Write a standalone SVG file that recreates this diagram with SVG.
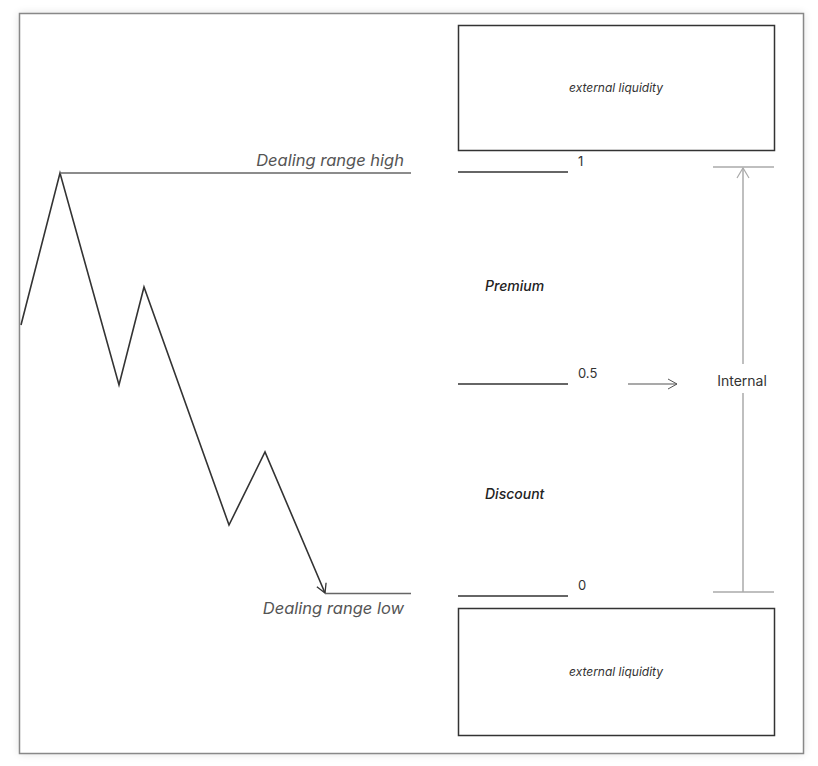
<svg xmlns="http://www.w3.org/2000/svg" width="818" height="766" viewBox="0 0 818 766">
<defs>
<filter id="sh" x="-5%" y="-5%" width="110%" height="110%"><feGaussianBlur stdDeviation="4"/></filter>
<marker id="ah2" viewBox="0 0 12 12" refX="10" refY="6" markerWidth="12" markerHeight="12" markerUnits="userSpaceOnUse" orient="auto"><path d="M1,1 L10,6 L1,11" fill="none" stroke="#333" stroke-width="1.3"/></marker>
<marker id="ahg" viewBox="0 0 12 12" refX="10" refY="6" markerWidth="12" markerHeight="12" markerUnits="userSpaceOnUse" orient="auto"><path d="M1,1 L10,6 L1,11" fill="none" stroke="#555" stroke-width="1"/></marker>
<marker id="ahl" viewBox="0 0 14 14" refX="12" refY="7" markerWidth="14" markerHeight="14" markerUnits="userSpaceOnUse" orient="auto"><path d="M2,1 L12,7 L2,13" fill="none" stroke="#aaa" stroke-width="1.2"/></marker>
</defs>
<style>
.box{fill:#fff;stroke:#333;stroke-width:1.5}
.ln{stroke:#333;stroke-width:1.6;fill:none}
.gl{stroke:#666;stroke-width:1.6;fill:none}
.lt{stroke:#aaa;stroke-width:1.5;fill:none}
.t{font-family:Inter,"Liberation Sans",sans-serif;fill:#333}
.dr{font-family:Inter,"Liberation Sans",sans-serif;font-style:italic;font-size:16.5px;fill:#555}
.el{font-family:Inter,"Liberation Sans",sans-serif;font-style:italic;font-size:12px;fill:#333}
.pd{font-family:Inter,"Liberation Sans",sans-serif;font-style:italic;font-weight:500;font-size:14px;fill:#222}
</style>
<rect x="19" y="13" width="785" height="741" fill="#000" opacity="0.12" filter="url(#sh)"/>
<rect x="19.5" y="13.5" width="784" height="740" fill="#fff" stroke="#888" stroke-width="1.5"/>
<g id="ext-top"><rect class="box" x="458.5" y="25.5" width="316" height="125"/><text class="el" x="616" y="92" text-anchor="middle">external liquidity</text></g>
<g id="ext-bottom"><rect class="box" x="458.5" y="608.5" width="316" height="127"/><text class="el" x="616" y="676" text-anchor="middle">external liquidity</text></g>
<g id="labels">
<text class="dr" x="404" y="166" text-anchor="end">Dealing range high</text>
<text class="dr" x="404" y="614" text-anchor="end">Dealing range low</text>
<text class="t" x="578" y="166" font-size="13">1</text>
<text class="t" x="578" y="378" font-size="13">0.5</text>
<text class="t" x="578" y="590" font-size="13">0</text>
<text class="pd" x="485" y="291">Premium</text>
<text class="pd" x="485" y="499">Discount</text>
<text class="t" x="742" y="386" font-size="14" text-anchor="middle">Internal</text>
</g>
<g id="connectors">
<polyline class="ln" points="21,325 60,173 119,385 144,287 229,525 265,452 325,593" stroke-linejoin="miter" marker-end="url(#ah2)"/>
<line class="gl" x1="60" y1="173" x2="411" y2="173"/>
<line class="gl" x1="325" y1="593.5" x2="411" y2="593.5"/>
<line class="ln" x1="458" y1="172" x2="568" y2="172"/>
<line class="ln" x1="458" y1="384" x2="568" y2="384"/>
<line class="ln" x1="458" y1="596" x2="568" y2="596"/>
<line x1="628" y1="384" x2="677" y2="384" stroke="#555" stroke-width="1.2" marker-end="url(#ahg)"/>
<line class="lt" x1="713" y1="167" x2="774" y2="167"/>
<line class="lt" x1="713" y1="592" x2="774" y2="592"/>
<line class="lt" x1="743" y1="364" x2="743" y2="168" marker-end="url(#ahl)"/>
<line class="lt" x1="743" y1="393" x2="743" y2="592"/>
</g>
</svg>
